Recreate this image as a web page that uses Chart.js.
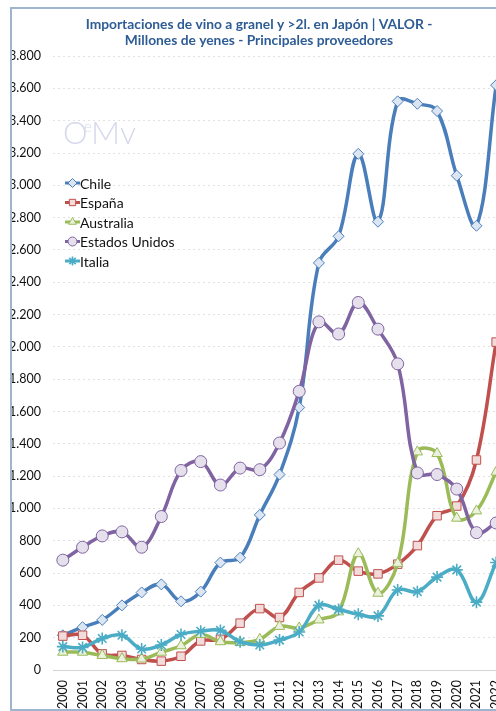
<!DOCTYPE html>
<html>
<head>
<meta charset="utf-8">
<script src="https://cdn.jsdelivr.net/npm/chart.js@4.4.1/dist/chart.umd.min.js"></script>
<style>
  html, body { margin: 0; padding: 0; background: #fff; overflow: hidden; width: 496px; height: 711px; }
  #frame {
    position: absolute; left: 10px; top: 7px;
    width: 530px; height: 704px;
    border: 2px solid #9fb4cf; box-sizing: border-box;
  }
  #chart { display: block; }
</style>
</head>
<body>
<div id="frame"><canvas id="chart" width="526" height="700"></canvas></div>
<script>
// años (eje X)
const years = ["2000","2001","2002","2003","2004","2005","2006","2007","2008","2009","2010",
  "2011","2012","2013","2014","2015","2016","2017","2018","2019","2020","2021","2022"];

// millones de yenes
const chile     = [215, 265, 310, 400, 480, 530, 425, 485, 665, 695, 960, 1210, 1625, 2520, 2685, 3195, 2775, 3520, 3505, 3460, 3060, 2750, 3620];
const espana    = [210, 215, 100, 90, 65, 55, 85, 180, 190, 290, 380, 325, 480, 570, 680, 612, 595, 655, 770, 955, 1015, 1300, 2030];
const australia = [110, 110, 90, 70, 68, 110, 150, 220, 175, 170, 190, 270, 260, 310, 360, 720, 475, 660, 1350, 1340, 940, 985, 1225];
const eeuu      = [680, 760, 830, 855, 760, 950, 1235, 1290, 1145, 1250, 1240, 1405, 1725, 2155, 2080, 2275, 2110, 1895, 1220, 1210, 1120, 850, 910];
const italia    = [145, 140, 195, 215, 130, 155, 220, 240, 245, 175, 155, 185, 235, 400, 375, 345, 335, 495, 485, 575, 620, 420, 665];

const yTicks = { min: 0, max: 3800, step: 200 };

function fmtMiles(v) {
  return String(v).replace(/\B(?=(\d{3})+(?!\d))/g, ".");
}

Chart.defaults.font.family = "Lato, 'Liberation Sans', sans-serif";
Chart.defaults.color = "#1a1a1a";

function serie(label, data, color, fill, style, radius, order) {
  return {
    label: label,
    data: data,
    borderColor: color,
    backgroundColor: fill,
    borderWidth: 3.5,
    tension: 0.38,
    pointStyle: style,
    pointRadius: radius,
    pointBorderColor: color,
    pointBackgroundColor: fill,
    pointBorderWidth: style === "star" ? 1.6 : 1,
    order: order,
  };
}

// leyenda dibujada a mano (línea + marcador como en Excel)
const leyendaPlugin = {
  id: "leyenda",
  afterDraw(chart) {
    const ctx = chart.ctx;
    const x0 = 53, y0 = 174, gap = 19.5;
    ctx.save();
    chart.data.datasets.forEach((ds, i) => {
      const y = y0 + i * gap;
      ctx.strokeStyle = ds.borderColor;
      ctx.lineWidth = 3;
      ctx.beginPath();
      ctx.moveTo(x0, y);
      ctx.lineTo(x0 + 15, y);
      ctx.stroke();
      ctx.fillStyle = ds.pointBackgroundColor;
      ctx.strokeStyle = ds.pointBorderColor;
      ctx.lineWidth = ds.pointBorderWidth;
      Chart.helpers.drawPoint(ctx, { pointStyle: ds.pointStyle, radius: 4.5, rotation: 0, borderWidth: ds.pointBorderWidth }, x0 + 7.5, y);
      ctx.fillStyle = "#111";
      ctx.font = "14px Lato, sans-serif";
      ctx.textBaseline = "middle";
      ctx.textAlign = "left";
      ctx.fillText(ds.label, x0 + 15, y + 1);
    });
    ctx.restore();
  },
};

// marca de agua OeMv
const marcaPlugin = {
  id: "marca",
  beforeDatasetsDraw(chart) {
    const ctx = chart.ctx;
    ctx.save();
    ctx.fillStyle = "#d6d8ec";
    ctx.textBaseline = "alphabetic";
    ctx.font = "300 31px Lato, sans-serif";
    ctx.fillText("O", 51, 135);
    ctx.font = "300 15px Lato, sans-serif";
    ctx.fillText("e", 72, 123);
    ctx.font = "300 32px Lato, sans-serif";
    ctx.fillText("M", 79, 135);
    ctx.fillText("v", 108, 135);
    ctx.restore();
  },
};

const ctx = document.getElementById("chart").getContext("2d");
new Chart(ctx, {
  type: "line",
  data: {
    labels: years,
    datasets: [
      serie("Chile", chile, "#4a7ebb", "#dce6f2", "rectRot", 5.5, 5),
      serie("España", espana, "#c0504d", "#f2dcdb", "rect", 6, 4),
      serie("Australia", australia, "#9bbb59", "#ebf1de", "triangle", 6, 3),
      serie("Estados Unidos", eeuu, "#8064a2", "#e5e0ec", "circle", 6, 2),
      serie("Italia", italia, "#4bacc6", "#4bacc6", "star", 6, 1),
    ],
  },
  options: {
    responsive: false,
    animation: false,
    layout: { padding: { left: 0, right: 32, top: 0, bottom: 0 } },
    plugins: {
      legend: { display: false },
      tooltip: { enabled: false },
      title: {
        display: true,
        text: ["Importaciones de vino a granel y >2l. en Japón | VALOR -",
               "Millones de yenes - Principales proveedores"],
        color: "#2e5c94",
        font: { size: 13.8, weight: "bold" },
        lineHeight: 1.26,
        padding: { top: 7, bottom: 7 },
      },
    },
    scales: {
      x: {
        offset: true,
        grid: { display: false, drawTicks: false, offset: true },
        border: { display: true, color: "#d4d4d4", width: 1 },
        ticks: {
          autoSkip: false, minRotation: 90, maxRotation: 90,
          padding: 10, color: "#111",
          font: { size: 12.5 },
        },
        afterFit(scale) { scale.height = 39; },
      },
      y: {
        min: yTicks.min,
        max: yTicks.max,
        grid: {
          drawTicks: false,
          color: (c) => (c.tick && c.tick.value === 0 ? "#d4d4d4" : "#e2e2e2"),
          lineWidth: 1,
        },
        border: { display: false, dash: [2, 3] },
        ticks: {
          stepSize: yTicks.step,
          padding: 12, color: "#111",
          font: { size: 12.5 },
          callback: (v) => fmtMiles(v),
        },
        afterFit(scale) { scale.width = 41; },
      },
    },
  },
  plugins: [marcaPlugin, leyendaPlugin],
});
</script>
</body>
</html>
